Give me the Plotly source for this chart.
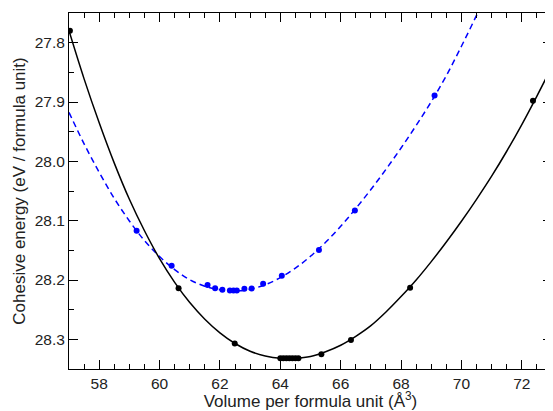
import plotly.graph_objects as go

# Data points
black_V = [57.03, 60.63, 62.49, 64.0, 64.1, 64.2, 64.3, 64.4, 64.5, 64.6, 65.36, 66.34, 68.30, 72.37]
black_E = [27.780, 28.214, 28.307, 28.332, 28.332, 28.332, 28.332, 28.332, 28.332, 28.332, 28.325, 28.301, 28.213, 27.898]

blue_V = [59.24, 60.40, 61.59, 61.84, 62.08, 62.33, 62.45, 62.56, 62.81, 63.05, 63.43, 64.05, 65.28, 66.47, 69.11]
blue_E = [28.117, 28.176, 28.2086, 28.214, 28.2165, 28.2177, 28.2177, 28.2177, 28.2148, 28.2143, 28.2064, 28.193, 28.1496, 28.083, 27.889]

# Fitted curves, every 0.5 Å^3
black_fit_V = [57.0, 57.5, 58.0, 58.5, 59.0, 59.5, 60.0, 60.5, 61.0, 61.5, 62.0, 62.5, 63.0, 63.5, 64.0, 64.5,
               65.0, 65.5, 66.0, 66.5, 67.0, 67.5, 68.0, 68.5, 69.0, 69.5, 70.0, 70.5, 71.0, 71.5, 72.0, 72.5, 73.0]
black_fit_E = [27.780, 27.861, 27.935, 28.003, 28.064, 28.117, 28.164, 28.204, 28.238, 28.266, 28.289, 28.307,
               28.320, 28.328, 28.332, 28.332, 28.329, 28.321, 28.310, 28.295, 28.277, 28.254, 28.228, 28.200,
               28.169, 28.136, 28.101, 28.064, 28.025, 27.983, 27.938, 27.890, 27.840]

blue_fit_V = [57.0, 57.5, 58.0, 58.5, 59.0, 59.5, 60.0, 60.5, 61.0, 61.5, 62.0, 62.5, 63.0, 63.5, 64.0,
              64.5, 65.0, 65.5, 66.0, 66.5, 67.0, 67.5, 68.0, 68.5, 69.0, 69.5, 70.0, 70.5, 71.0]
blue_fit_E = [27.9175, 27.9705, 28.0185, 28.0625, 28.1005, 28.1335, 28.1605, 28.1825, 28.1995, 28.2105,
              28.2165, 28.2185, 28.2155, 28.208, 28.196, 28.180, 28.160, 28.1365, 28.1095, 28.0795, 28.0475,
              28.0135, 27.9775, 27.9395, 27.8995, 27.8555, 27.806, 27.754, 27.700]

x_ticks = [58, 60, 62, 64, 66, 68, 70, 72]
y_ticks = [27.8, 27.9, 28.0, 28.1, 28.2, 28.3]

fig = go.Figure()
fig.add_trace(go.Scatter(x=blue_fit_V, y=blue_fit_E, mode="lines",
                         line=dict(color="#0000ff", width=1.5, dash="6px,4px", shape="spline", smoothing=1),
                         hoverinfo="skip"))
fig.add_trace(go.Scatter(x=black_fit_V, y=black_fit_E, mode="lines",
                         line=dict(color="black", width=1.5, shape="spline", smoothing=1),
                         hoverinfo="skip"))
fig.add_trace(go.Scatter(x=blue_V, y=blue_E, mode="markers", marker=dict(color="#0000ff", size=6)))
fig.add_trace(go.Scatter(x=black_V, y=black_E, mode="markers", marker=dict(color="black", size=6)))

family = "Liberation Sans, Arial, sans-serif"
tick_font = dict(family=family, size=15.5, color="#222")
title_font = dict(family=family, size=17, color="#222")

# The page body adds an 8px offset, so the figure is 8px smaller than the window
fig.update_layout(
    width=545, height=403,
    margin=dict(l=61, r=1, t=5, b=42),
    paper_bgcolor="white", plot_bgcolor="white",
    showlegend=False,
    font=tick_font,
    xaxis=dict(
        range=[57, 73], tickvals=x_ticks, ticktext=[str(v) for v in x_ticks],
        ticks="inside", ticklen=9, tickwidth=1, tickcolor="black", tickfont=tick_font,
        minor=dict(ticks="inside", dtick=0.5, tick0=57, ticklen=5, tickcolor="black", showgrid=False),
        showline=True, linecolor="black", linewidth=1, mirror="allticks",
        showgrid=False, zeroline=False,
        title=dict(text="Volume per formula unit (Å<sup>3</sup>)", standoff=2, font=title_font),
        automargin=False,
    ),
    yaxis=dict(
        range=[28.35, 27.75], tickvals=y_ticks, ticktext=[f"{v:.1f}" for v in y_ticks],
        ticks="inside", ticklen=9, tickwidth=1, tickcolor="black", tickfont=tick_font,
        minor=dict(ticks="inside", dtick=0.05, tick0=27.75, ticklen=5, tickcolor="black", showgrid=False),
        showline=True, linecolor="black", linewidth=1, mirror="allticks",
        showgrid=False, zeroline=False,
        title=dict(text="Cohesive energy (eV / formula unit)", standoff=4, font=title_font),
        automargin=False,
    ),
)

fig.write_html("out.html")
